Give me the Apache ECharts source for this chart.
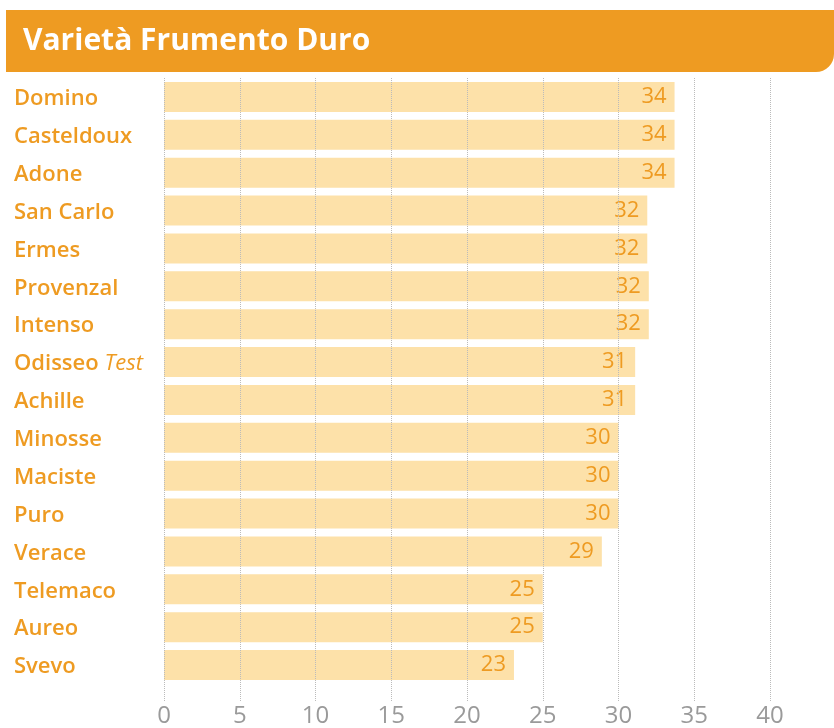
<!DOCTYPE html>
<html>
<head>
<meta charset="utf-8">
<script src="https://cdn.jsdelivr.net/npm/echarts@6/dist/echarts.min.js"></script>
<style>
    html, body { margin: 0; padding: 0; background: #fff; }
    #main { width: 834px; height: 728px; }
</style>
</head>
<body>
<div id="main"></div>
<script type="text/javascript">
var varieties = ['Domino', 'Casteldoux', 'Adone', 'San Carlo', 'Ermes', 'Provenzal', 'Intenso',
    'Odisseo Test', 'Achille', 'Minosse', 'Maciste', 'Puro', 'Verace', 'Telemaco', 'Aureo', 'Svevo'];
var yields = [33.7, 33.7, 33.7, 31.9, 31.9, 32, 32, 31.1, 31.1, 30, 30, 30, 28.9, 25, 25, 23.1];
var ticks = [0, 5, 10, 15, 20, 25, 30, 35, 40];

var orange = '#ee9b22';
var myChart = echarts.init(document.getElementById('main'));
var option = {
    animation: false,
    graphic: [{
        type: 'rect',
        shape: { x: 6, y: 10, width: 828, height: 62, r: [0, 0, 18, 0] },
        style: { fill: orange },
        z: 10
    }, {
        type: 'text',
        left: 23,
        top: 26,
        style: {
            text: 'Varietà Frumento Duro',
            fill: '#fff',
            font: 'bold 30px "Open Sans"'
        },
        z: 11
    }],
    grid: { left: 164, right: 64, top: 78, bottom: 44 },
    xAxis: {
        type: 'value',
        min: ticks[0],
        max: ticks[ticks.length - 1],
        interval: 5,
        z: 3,
        axisLine: { show: false },
        axisTick: {
            show: true,
            length: 18,
            lineStyle: { color: '#bbbbbb', type: 'dotted', width: 1 }
        },
        splitLine: {
            lineStyle: { color: '#bbbbbb', type: 'dotted', width: 1 }
        },
        axisLabel: {
            margin: 20,
            color: '#9a9a9a',
            fontFamily: 'Open Sans',
            fontSize: 24
        }
    },
    yAxis: {
        type: 'category',
        inverse: true,
        data: varieties,
        axisLine: { show: false },
        axisTick: { show: false },
        axisLabel: {
            align: 'left',
            margin: 150,
            color: orange,
            fontFamily: 'Open Sans',
            fontWeight: 600,
            fontSize: 22,
            padding: [4, 0, 0, 0],
            formatter: function (v) {
                if (v.indexOf(' Test') > 0) {
                    return '{n|' + v.replace(' Test', ' ') + '}{i|Test}';
                }
                return v;
            },
            rich: {
                n: { color: orange, fontFamily: 'Open Sans', fontWeight: 600, fontSize: 22 },
                i: { color: orange, fontFamily: 'Open Sans', fontStyle: 'italic', fontWeight: 400, fontSize: 22 }
            }
        }
    },
    series: [{
        type: 'bar',
        data: yields,
        barWidth: 30,
        itemStyle: { color: '#fde1a9' },
        label: {
            show: true,
            position: 'insideRight',
            distance: 8,
            color: orange,
            fontFamily: 'Open Sans',
            fontSize: 22,
            formatter: function (p) { return Math.round(p.value); }
        }
    }]
};
myChart.setOption(option);
</script>
</body>
</html>
